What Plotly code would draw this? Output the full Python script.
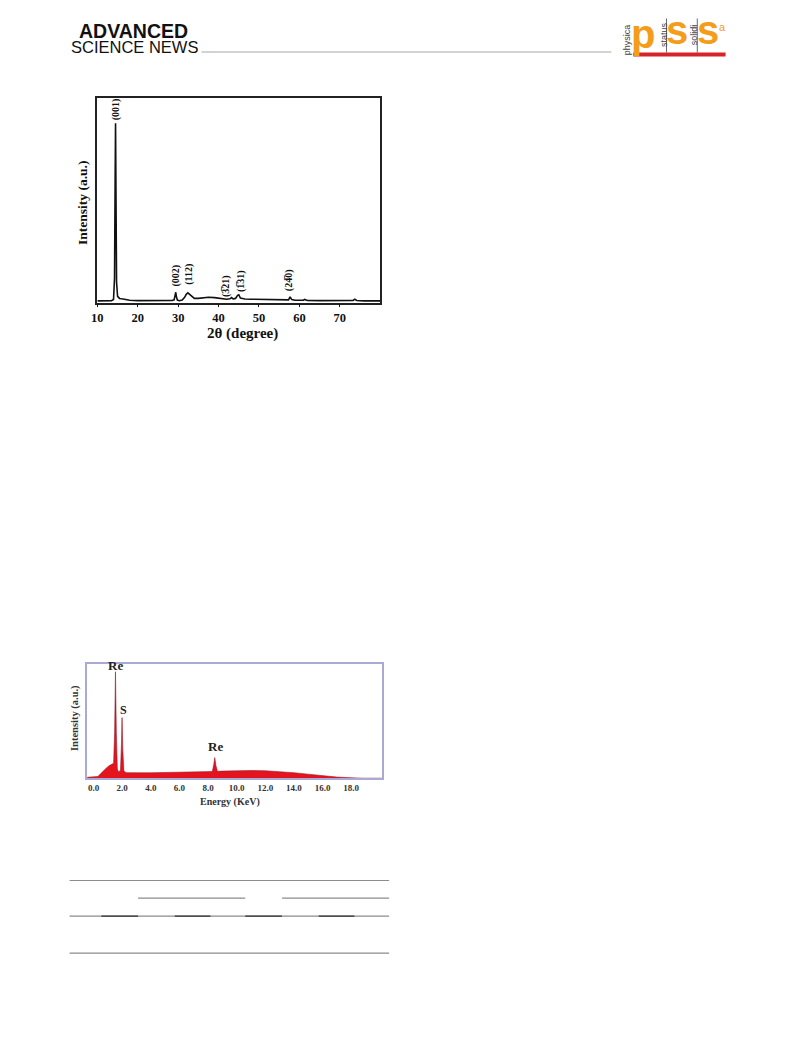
import plotly.graph_objects as go

W, H = 793, 1043

# ---------------- XRD data ----------------
two_theta = [10, 12, 13.5, 14.0, 14.25, 14.4, 14.5, 14.6, 14.75, 15.0, 15.5, 16.0, 17, 18, 20, 22, 25, 27,
             28.5, 29.0, 29.25, 29.4, 29.55, 29.8, 30.3, 31.0, 31.6, 32.0, 32.4, 32.8, 33.3, 34.0, 35.0,
             36.0, 37.5, 39.0, 40.5, 42.0, 42.8, 43.2, 43.6, 44.2, 44.7, 45.0, 45.4, 46.5, 48, 50, 52,
             54, 56, 57.3, 57.7, 58.1, 59, 61, 61.3, 62, 65, 68, 70, 72, 73.3, 73.7, 74.2, 76, 78, 80]
xrd_intensity = [0.008, 0.008, 0.009, 0.015, 0.12, 0.6, 0.877, 0.55, 0.1, 0.03, 0.02, 0.018, 0.014, 0.011,
                 0.009, 0.009, 0.009, 0.009, 0.01, 0.013, 0.035, 0.05, 0.03, 0.012, 0.009, 0.012, 0.025,
                 0.04, 0.047, 0.04, 0.028, 0.02, 0.02, 0.023, 0.026, 0.024, 0.02, 0.016, 0.018, 0.024,
                 0.018, 0.02, 0.035, 0.038, 0.022, 0.017, 0.016, 0.015, 0.015, 0.013, 0.012, 0.013, 0.028,
                 0.014, 0.011, 0.011, 0.015, 0.01, 0.009, 0.009, 0.008, 0.008, 0.01, 0.016, 0.01, 0.008,
                 0.008, 0.008]
xrd_ticks = [10, 20, 30, 40, 50, 60, 70]
hkl_labels = ["(001)", "(002)", "(112)", "(3\u030521)", "(1\u030531)", "(24\u03050)"]
hkl_x = [14.5, 29.4, 32.7, 41.9, 45.4, 57.5]
hkl_y = [0.88, 0.067, 0.075, 0.018, 0.043, 0.047]

# ---------------- EDS data ----------------
energy = [-0.45, 0.0, 0.3, 0.5, 0.7, 0.9, 1.1, 1.3, 1.4, 1.47, 1.53, 1.59, 1.66, 1.75, 1.88, 1.95, 1.99,
          2.04, 2.12, 2.3, 3, 4, 5, 6, 7, 8.0, 8.3, 8.4, 8.47, 8.55, 8.65, 9, 10, 11, 12, 13, 14, 15,
          16, 17, 18, 18.8, 20.2]
eds_counts = [0.008, 0.01, 0.015, 0.04, 0.07, 0.09, 0.11, 0.12, 0.13, 0.4, 0.93, 0.4, 0.08, 0.055, 0.07,
              0.3, 0.53, 0.25, 0.06, 0.048, 0.045, 0.047, 0.05, 0.052, 0.055, 0.056, 0.058, 0.12, 0.18,
              0.11, 0.06, 0.062, 0.066, 0.067, 0.065, 0.058, 0.048, 0.035, 0.022, 0.01, 0.004, 0.0, 0.0]
eds_ticks = [0, 2, 4, 6, 8, 10, 12, 14, 16, 18]
eds_ticktext = ["0.0", "2.0", "4.0", "6.0", "8.0", "10.0", "12.0", "14.0", "16.0", "18.0"]
element_labels = ["Re", "S", "Re"]
element_x = [1.55, 2.1, 8.5]
element_y = [0.9, 0.52, 0.19]

# page offset compensation (the page is rendered with a small body offset)
DX, DY = -12, -7.5


def px(x):
    return (x + DX) / W


def py(y):
    return 1 - (y + DY) / H


SERIF = "Liberation Serif"
fig = go.Figure()

fig.add_trace(go.Scatter(x=two_theta, y=xrd_intensity, mode="lines",
                         line=dict(color="#111111", width=1.6), xaxis="x", yaxis="y",
                         showlegend=False, hoverinfo="skip"))

fig.add_trace(go.Scatter(x=energy, y=eds_counts, mode="lines", fill="tozeroy",
                         fillcolor="#e3141e", line=dict(color="#9a1a2a", width=0.6),
                         xaxis="x2", yaxis="y2", showlegend=False, hoverinfo="skip"))

annotations = []
for t, x, y in zip(hkl_labels, hkl_x, hkl_y):
    annotations.append(dict(x=x, y=y, xref="x", yref="y", text="<b>%s</b>" % t, textangle=-90,
                            showarrow=False, font=dict(family=SERIF, size=10, color="#111"),
                            xanchor="center", yanchor="bottom"))
for t, x, y in zip(element_labels, element_x, element_y):
    annotations.append(dict(x=x, y=y, xref="x2", yref="y2", text="<b>%s</b>" % t, showarrow=False,
                            font=dict(family=SERIF, size=13 if t == "Re" else 12, color="#222"),
                            xanchor="center", yanchor="bottom"))

# axis titles
annotations += [
    dict(x=px(242), y=py(333), xref="paper", yref="paper", text="<b>2\u03b8 (degree)</b>",
         showarrow=False, font=dict(family=SERIF, size=15, color="#111"), xanchor="center", yanchor="middle"),
    dict(x=px(81), y=py(202), xref="paper", yref="paper", text="<b>Intensity (a.u.)</b>", textangle=-90,
         showarrow=False, font=dict(family=SERIF, size=13.5, color="#111"), xanchor="center", yanchor="middle"),
    dict(x=px(230), y=py(801), xref="paper", yref="paper", text="<b>Energy (KeV)</b>",
         showarrow=False, font=dict(family=SERIF, size=10, color="#333"), xanchor="center", yanchor="middle"),
    dict(x=px(73), y=py(718), xref="paper", yref="paper", text="<b>Intensity (a.u.)</b>", textangle=-90,
         showarrow=False, font=dict(family=SERIF, size=10.5, color="#333"), xanchor="center", yanchor="middle"),
]

# header
ORANGE = "#f59c1a"
annotations += [
    dict(x=px(75), y=py(30.5), xref="paper", yref="paper", text="<b>ADVANCED</b>", showarrow=False,
         font=dict(family="Liberation Sans", size=19.5, color="#111"), xanchor="left", yanchor="middle"),
    dict(x=px(67), y=py(46.5), xref="paper", yref="paper", text="SCIENCE NEWS", showarrow=False,
         font=dict(family="Liberation Sans", size=16.5, color="#111"), xanchor="left", yanchor="middle"),
    dict(x=px(629.5), y=py(39), xref="paper", yref="paper", text="physica", textangle=-90, showarrow=False,
         font=dict(family="Liberation Sans", size=9, color="#444"), xanchor="center", yanchor="middle"),
    dict(x=px(666.5), y=py(34), xref="paper", yref="paper", text="status", textangle=-90, showarrow=False,
         font=dict(family="Liberation Sans", size=9, color="#444"), xanchor="center", yanchor="middle"),
    dict(x=px(697), y=py(34), xref="paper", yref="paper", text="solidi", textangle=-90, showarrow=False,
         font=dict(family="Liberation Sans", size=9, color="#444"), xanchor="center", yanchor="middle"),
    dict(x=px(645.5), y=py(33), xref="paper", yref="paper", text="<b>p</b>", showarrow=False,
         font=dict(family="Liberation Sans", size=40, color=ORANGE), xanchor="center", yanchor="middle"),
    dict(x=px(680.5), y=py(30), xref="paper", yref="paper", text="<b>s</b>", showarrow=False,
         font=dict(family="Liberation Sans", size=40, color=ORANGE), xanchor="center", yanchor="middle"),
    dict(x=px(711.5), y=py(30), xref="paper", yref="paper", text="<b>s</b>", showarrow=False,
         font=dict(family="Liberation Sans", size=40, color=ORANGE), xanchor="center", yanchor="middle"),
    dict(x=px(726), y=py(27), xref="paper", yref="paper", text="a", showarrow=False,
         font=dict(family="Liberation Sans", size=11, color=ORANGE), xanchor="center", yanchor="middle"),
]

GRAY = "#8c8c8c"
shapes = [
    dict(type="line", xref="paper", yref="paper", x0=px(201), x1=px(614), y0=py(51.5), y1=py(51.5),
         line=dict(color="#a8a8a8", width=1.2)),
    dict(type="rect", xref="paper", yref="paper", x0=px(636), x1=px(729), y0=py(56), y1=py(52),
         fillcolor="#d9232a", line=dict(width=0)),
    dict(type="line", xref="paper", yref="paper", x0=px(669.5), x1=px(669.5), y0=py(18), y1=py(52),
         line=dict(color="#444", width=0.8)),
    dict(type="line", xref="paper", yref="paper", x0=px(700.5), x1=px(700.5), y0=py(18), y1=py(52),
         line=dict(color="#444", width=0.8)),
    # table rules
    dict(type="line", xref="paper", yref="paper", x0=px(68), x1=px(390), y0=py(880), y1=py(880),
         line=dict(color=GRAY, width=1.2)),
    dict(type="line", xref="paper", yref="paper", x0=px(137), x1=px(245), y0=py(897.7), y1=py(897.7),
         line=dict(color=GRAY, width=1.2)),
    dict(type="line", xref="paper", yref="paper", x0=px(282), x1=px(390), y0=py(897.7), y1=py(897.7),
         line=dict(color=GRAY, width=1.2)),
    dict(type="line", xref="paper", yref="paper", x0=px(68), x1=px(390), y0=py(915.7), y1=py(915.7),
         line=dict(color=GRAY, width=1.2)),
    dict(type="line", xref="paper", yref="paper", x0=px(68), x1=px(390), y0=py(952.7), y1=py(952.7),
         line=dict(color=GRAY, width=1.2)),
]
for a, b in [(100, 137), (174, 210), (245, 282), (319, 355)]:
    shapes.append(dict(type="line", xref="paper", yref="paper", x0=px(a), x1=px(b), y0=py(915.7),
                       y1=py(915.7), line=dict(color="#333", width=1.3)))

fig.update_layout(
    width=W, height=H, margin=dict(l=0, r=0, t=0, b=0),
    paper_bgcolor="white", plot_bgcolor="white", showlegend=False,
    xaxis=dict(domain=[px(96), px(381)], range=[10, 80], tickvals=xrd_ticks,
               ticktext=["<b>%d</b>" % v for v in xrd_ticks], ticks="outside",
               ticklen=3, tickwidth=1, tickcolor="#111", showline=True, mirror=True, linecolor="#222",
               linewidth=1.5, showgrid=False, zeroline=False, anchor="y",
               tickfont=dict(family=SERIF, size=12.5, color="#111")),
    yaxis=dict(domain=[py(302), py(97.7)], range=[0, 1], showticklabels=False, ticks="",
               showline=True, mirror=True, linecolor="#222", linewidth=1.5, showgrid=False,
               zeroline=False, anchor="x"),
    xaxis2=dict(domain=[px(85.7), px(382.7)], range=[-0.45, 20.15], tickvals=eds_ticks,
                ticktext=["<b>%s</b>" % t for t in eds_ticktext], ticks="", showline=True, mirror=True,
                linecolor="#a9a9d6", linewidth=1.5, showgrid=False, zeroline=False, anchor="y2",
                tickfont=dict(family=SERIF, size=9, color="#333")),
    yaxis2=dict(domain=[py(777.7), py(663.3)], range=[0, 1], showticklabels=False, ticks="",
                showline=True, mirror=True, linecolor="#a9a9d6", linewidth=1.5, showgrid=False,
                zeroline=False, anchor="x2"),
    annotations=annotations, shapes=shapes,
)

fig.write_html("out.html")
